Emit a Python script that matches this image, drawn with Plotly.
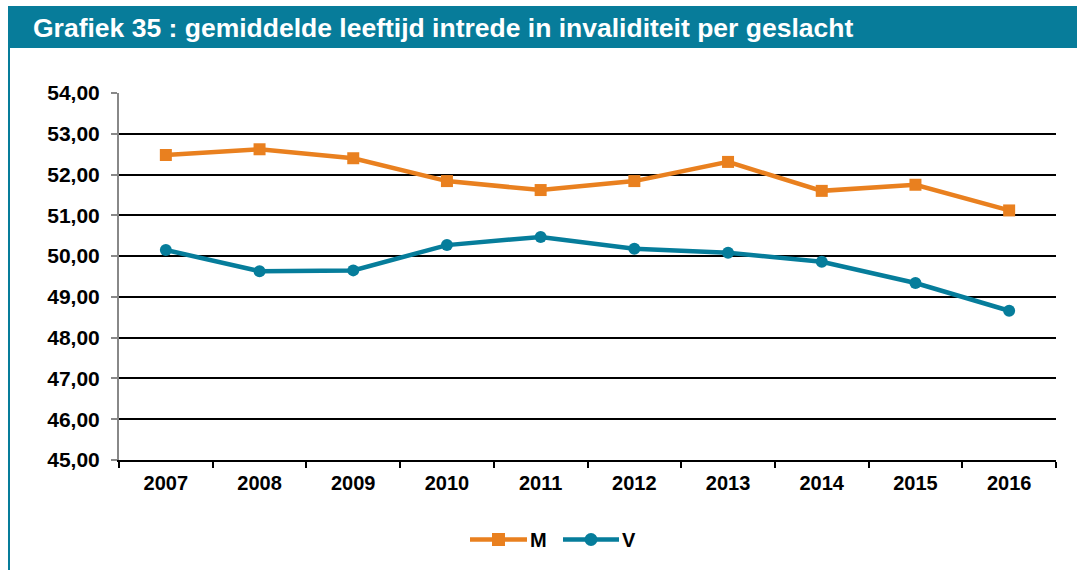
import plotly.graph_objects as go

# Data
years = ["2007", "2008", "2009", "2010", "2011", "2012", "2013", "2014", "2015", "2016"]
mannen = [52.48, 52.62, 52.40, 51.84, 51.62, 51.84, 52.31, 51.60, 51.75, 51.12]
vrouwen = [50.15, 49.63, 49.65, 50.27, 50.47, 50.18, 50.08, 49.86, 49.34, 48.66]
y_ticks = [45, 46, 47, 48, 49, 50, 51, 52, 53, 54]

ORANGE = "#E9801F"
TEAL = "#067D9B"
BAR = "#077C9A"
FONT = "Liberation Sans, Arial, sans-serif"

W, H = 1077, 570
L, R, T, B = 119, 21, 93, 110
pw, ph = W - L - R, H - T - B


def px(x):
    return (x - L) / pw


def py(y):
    return (H - B - y) / ph


fig = go.Figure()
fig.add_trace(go.Scatter(
    x=years, y=mannen, name="M", mode="lines+markers",
    line=dict(color=ORANGE, width=4.5),
    marker=dict(symbol="square", size=12, color=ORANGE),
))
fig.add_trace(go.Scatter(
    x=years, y=vrouwen, name="V", mode="lines+markers",
    line=dict(color=TEAL, width=4.5),
    marker=dict(symbol="circle", size=12, color=TEAL),
))

shapes = [
    # title band
    dict(type="rect", xref="paper", yref="paper", x0=px(10), x1=px(1077),
         y0=py(48), y1=py(6), fillcolor=BAR, line=dict(width=0), layer="below"),
    # left border
    dict(type="rect", xref="paper", yref="paper", x0=px(8), x1=px(10),
         y0=py(570), y1=py(6), fillcolor=BAR, line=dict(width=0), layer="below"),
]

annotations = [dict(
    text="<b>Grafiek 35 : gemiddelde leeftijd intrede in invaliditeit per geslacht</b>",
    xref="paper", yref="paper", x=px(31), y=py(28),
    xanchor="left", yanchor="middle", showarrow=False,
    font=dict(size=26.5, color="white", family=FONT),
)]

# legend drawn below the plot: line, marker and label per series
legend_y = 539.5
for name, color, symbol, x0, x1 in [("M", ORANGE, "rect", 470, 527),
                                    ("V", TEAL, "circle", 563, 619)]:
    xm = (x0 + x1) / 2
    shapes.append(dict(type="line", xref="paper", yref="paper",
                       x0=px(x0), x1=px(x1), y0=py(legend_y), y1=py(legend_y),
                       line=dict(color=color, width=4.5)))
    shapes.append(dict(type=symbol, xref="paper", yref="paper",
                       x0=px(xm - 6.5), x1=px(xm + 6.5),
                       y0=py(legend_y + 6.5), y1=py(legend_y - 6.5),
                       fillcolor=color, line=dict(width=0)))
    annotations.append(dict(
        text=f"<b>{name}</b>", xref="paper", yref="paper",
        x=px(x1 + 1), y=py(legend_y), xanchor="left", yanchor="middle",
        showarrow=False, font=dict(size=20, color="black", family=FONT),
    ))

fig.update_layout(
    width=W, height=H,
    margin=dict(l=L, r=R, t=T, b=B),
    paper_bgcolor="white", plot_bgcolor="white",
    font=dict(family=FONT, color="black"),
    shapes=shapes,
    annotations=annotations,
    showlegend=False,
)

fig.update_xaxes(
    type="category", range=[-0.5, 9.5],
    tickson="boundaries", ticks="outside", ticklen=6,
    tickcolor="black", tickwidth=2,
    showline=True, linecolor="black", linewidth=2,
    showgrid=False,
    tickfont=dict(size=20, color="black"),
    tickvals=years, ticktext=[f"<b>{y}</b>" for y in years],
    ticklabelstandoff=4,
)
fig.update_yaxes(
    range=[45, 54], tickvals=y_ticks,
    ticktext=[f"<b>{v:.2f}</b>".replace(".", ",") for v in y_ticks],
    ticks="outside", ticklen=6, tickcolor="#888888", tickwidth=2,
    showline=True, linecolor="#888888", linewidth=2,
    showgrid=True, gridcolor="black", gridwidth=2,
    zeroline=False,
    tickfont=dict(size=21, color="black"),
    ticklabelstandoff=7,
)

fig.write_html("out.html")
